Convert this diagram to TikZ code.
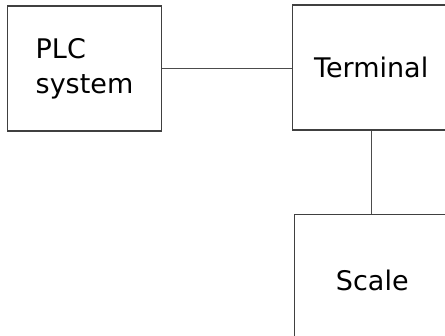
\documentclass[tikz,border=0pt]{standalone}
\usepackage{fontspec}
\setmainfont{DejaVu Sans}
\begin{document}
\begin{tikzpicture}[x=1pt, y=1pt,
    unit/.style={draw=black!75, line width=1.2pt, fill=white, inner sep=0pt,
      font=\fontsize{27}{35}\selectfont},
    link/.style={draw=black!70, line width=1.2pt}]
      \useasboundingbox (0,0) rectangle (445,336);
      
      % Boxes
      \node[unit, minimum width=154.4, minimum height=125, align=left] (plc) at (84.5,267.5) {PLC\\system};
      \node[unit, minimum width=157, minimum height=125] (term) at (371.2,268.5) {Terminal};
      \node[unit, minimum width=156, minimum height=130.6] (scale) at (372.3,56) {Scale};
      
      % Links
      \draw[link] (plc.east) -- (plc.east -| term.west);
      \draw[link] (term.south) -- (term.south |- scale.north);
      
    \end{tikzpicture}
\end{document}
